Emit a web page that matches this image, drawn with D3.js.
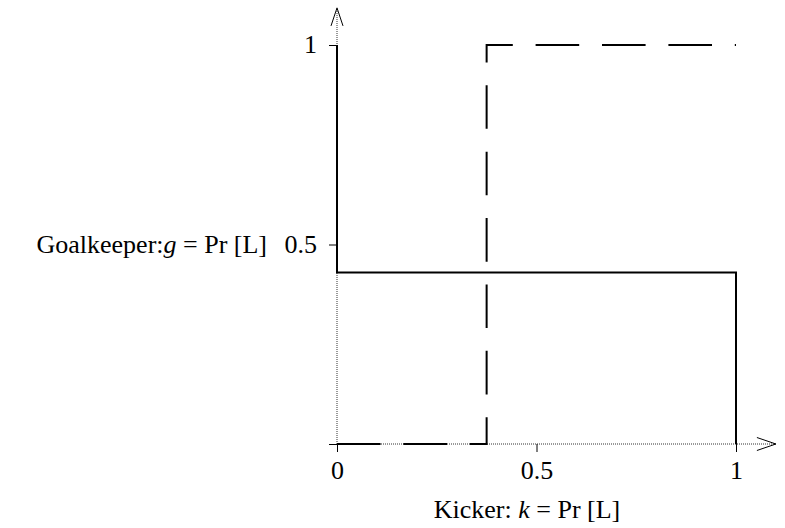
<!DOCTYPE html>
<html>
<head>
<meta charset="utf-8">
<script src="https://cdn.jsdelivr.net/npm/d3@7"></script>
<style>
  html, body { margin: 0; padding: 0; background: #fff; }
  svg { display: block; }
  text { font-family: "Liberation Serif", "Times New Roman", serif; fill: #000; }
</style>
</head>
<body>
<svg id="chart" width="785" height="528"></svg>
<script>
// Tick values on each axis
const kickerTicks = [0, 0.5, 1];
const keeperTicks = [0, 0.5, 1];

// Kicker's best response (solid): k as a function of g
const kickerBR_k = [0, 0, 1, 1];
const kickerBR_g = [1, 0.43, 0.43, 0];

// Goalkeeper's best response (dashed): g as a function of k
const keeperBR_k = [0, 0.375, 0.375, 1];
const keeperBR_g = [0, 0, 1, 1];

// How far the axis arrows run past 1
const kickerAxisEnd = 1.1;
const keeperAxisEnd = 1.093;

const svg = d3.select("#chart");
const fontSize = 26;

const x = d3.scaleLinear().domain([0, 1]).range([337, 736]);
const y = d3.scaleLinear().domain([0, 1]).range([444, 45]);

// Dotted axis lines
const axisStyle = sel => sel.attr("stroke", "#333").attr("stroke-width", 1)
  .attr("stroke-dasharray", "1,1").attr("fill", "none");

svg.append("line").call(axisStyle)
  .attr("x1", x(0)).attr("y1", y(0)).attr("x2", x(kickerAxisEnd)).attr("y2", y(0));
svg.append("line").call(axisStyle)
  .attr("x1", x(0)).attr("y1", y(0)).attr("x2", x(0)).attr("y2", y(keeperAxisEnd));

// Open arrow heads
const ax = x(kickerAxisEnd), ay = y(keeperAxisEnd);
svg.append("path")
  .attr("d", `M${ax - 19},${y(0) - 6.5}L${ax},${y(0)}L${ax - 19},${y(0) + 6.5}`)
  .attr("fill", "none").attr("stroke", "#000").attr("stroke-width", 1);
svg.append("path")
  .attr("d", `M${x(0) - 6},${ay + 18}L${x(0)},${ay}L${x(0) + 6},${ay + 18}`)
  .attr("fill", "none").attr("stroke", "#000").attr("stroke-width", 1);

// Axes with ticks and labels
const fmt = d => String(d);
const xAxis = d3.axisBottom(x).tickValues(kickerTicks).tickFormat(fmt)
  .tickSizeInner(8).tickSizeOuter(0).tickPadding(10);
const gx = svg.append("g").attr("transform", `translate(0,${y(0)})`).call(xAxis);
gx.select(".domain").remove();
gx.selectAll(".tick line").attr("stroke", "#000").attr("stroke-width", 1);
gx.selectAll(".tick text").attr("font-size", fontSize).attr("font-family", null)
  .attr("dy", null).attr("y", 35);

const yAxis = d3.axisLeft(y).tickValues(keeperTicks).tickFormat(d => d === 0 ? "" : fmt(d))
  .tickSizeInner(8).tickSizeOuter(0).tickPadding(12);
const gy = svg.append("g").attr("transform", `translate(${x(0)},0)`).call(yAxis);
gy.select(".domain").remove();
gy.selectAll(".tick line").attr("stroke", "#000").attr("stroke-width", 1);
gy.selectAll(".tick text").attr("font-size", fontSize).attr("font-family", null)
  .attr("dy", "0.3em");

// Response curves
const line = d3.line().x(d => x(d[0])).y(d => y(d[1]));
const kickerPts = kickerBR_k.map((k, i) => [k, kickerBR_g[i]]);
const keeperPts = keeperBR_k.map((k, i) => [k, keeperBR_g[i]]);

svg.append("path").datum(keeperPts).attr("d", line)
  .attr("fill", "none").attr("stroke", "#000").attr("stroke-width", 2)
  .attr("stroke-dasharray", "43.6,22.8");

svg.append("path").datum(kickerPts).attr("d", line)
  .attr("fill", "none").attr("stroke", "#000").attr("stroke-width", 2);

// Axis titles
const xt = svg.append("text").attr("x", 527).attr("y", 518)
  .attr("text-anchor", "middle").attr("font-size", fontSize);
xt.append("tspan").text("Kicker: ");
xt.append("tspan").attr("font-style", "italic").text("k");
xt.append("tspan").text(" = Pr [L]");

const yt = svg.append("text").attr("x", 267).attr("y", y(0.5) + 8)
  .attr("text-anchor", "end").attr("font-size", fontSize);
yt.append("tspan").text("Goalkeeper:");
yt.append("tspan").attr("font-style", "italic").text("g");
yt.append("tspan").text(" = Pr [L]");
</script>
</body>
</html>
